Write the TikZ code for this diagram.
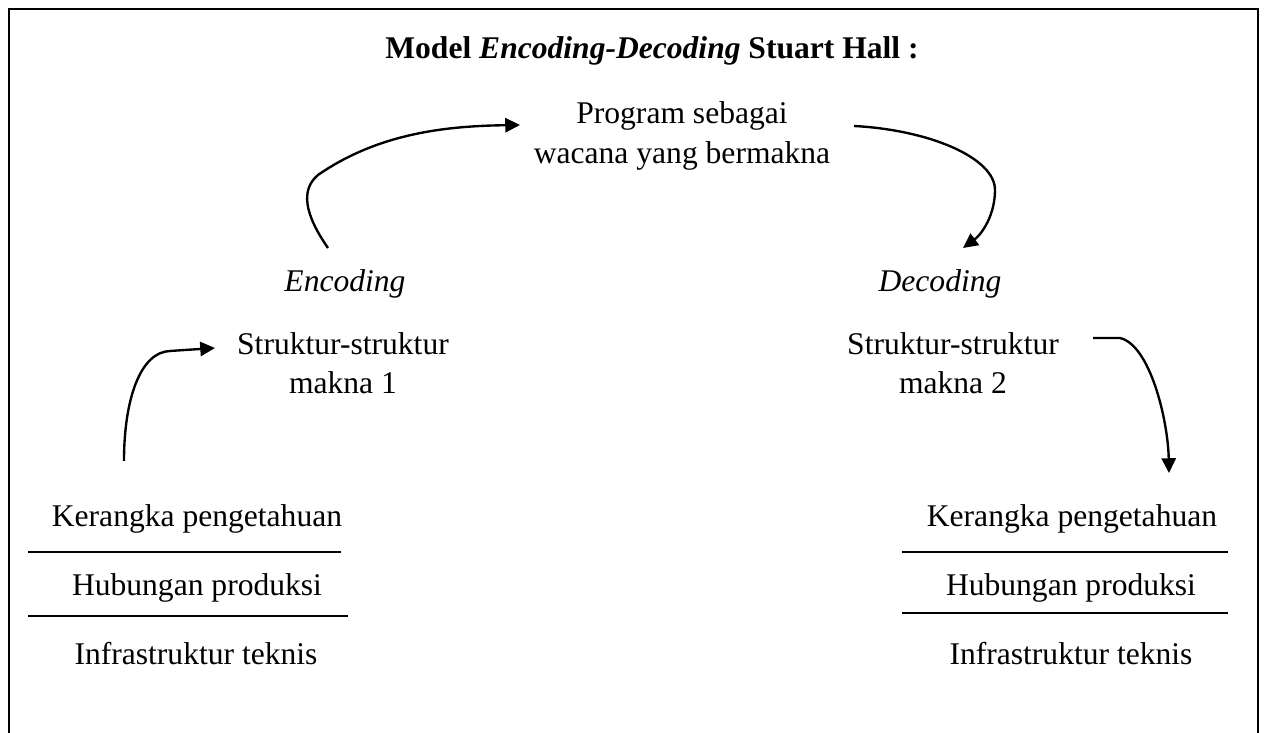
\documentclass[tikz,border=0pt]{standalone}
\usepackage{fontspec}
\setmainfont{Liberation Serif}
\usepackage{tikz}
\usetikzlibrary{arrows.meta}

\tikzset{
    lbl/.style={font=\fontsize{12}{15}\selectfont, inner sep=0pt, align=center},
    flow/.style={line width=0.9pt, -{Triangle[length=5.6pt,width=5.4pt]}},
    rule/.style={line width=0.8pt}
}

\begin{document}
\begin{tikzpicture}[x=0.38pt, y=-0.38pt]
    \useasboundingbox (0,0) rectangle (1266,733);

    % Frame (open at the bottom)
    \draw[line width=0.8pt] (9,733) -- (9,9) -- (1258,9) -- (1258,733);

    % Title
    \node[lbl, font=\fontsize{12}{15}\bfseries, anchor=base] (title) at (652,59) {Model \textit{Encoding-Decoding} Stuart Hall :};

    % Message in the middle
    \node[lbl] (prog) at (682,136) {Program sebagai\\wacana yang bermakna};

    % Encoding side
    \node[lbl, font=\fontsize{12}{15}\itshape] (enc) at (345,284) {Encoding};
    \node[lbl] (struk1) at (343,363) {Struktur-struktur\\makna 1};

    % Decoding side
    \node[lbl, font=\fontsize{12}{15}\itshape] (dec) at (940,284) {Decoding};
    \node[lbl] (struk2) at (953,363) {Struktur-struktur\\makna 2};

    % Left stack
    \node[lbl, anchor=base] (ker1) at (197,527) {Kerangka pengetahuan};
    \node[lbl, anchor=base] (hub1) at (197,596) {Hubungan produksi};
    \node[lbl, anchor=base] (inf1) at (196,665) {Infrastruktur teknis};
    \draw[rule] (28,552) -- (341,552);
    \draw[rule] (28,616) -- (348,616);

    % Right stack
    \node[lbl, anchor=base] (ker2) at (1072,527) {Kerangka pengetahuan};
    \node[lbl, anchor=base] (hub2) at (1071,596) {Hubungan produksi};
    \node[lbl, anchor=base] (inf2) at (1071,665) {Infrastruktur teknis};
    \draw[rule] (902,552) -- (1228,552);
    \draw[rule] (902,613) -- (1228,613);

    % Arrow ends
    \coordinate (encTop) at (328,248);
    \coordinate (progIn) at (520,125);
    \coordinate (progOut) at (854,126);
    \coordinate (decTop) at (963,248);
    \coordinate (kerTop) at (124,461);
    \coordinate (strukIn) at (215,348);
    \coordinate (strukOut) at (1093,338);
    \coordinate (kerIn) at (1169,473);

    % Flow arrows
    \draw[flow] (encTop) .. controls (305,215) and (300,190) .. (318,175)
        .. controls (380,132) and (450,126) .. (progIn);
    \draw[flow] (progOut) .. controls (930,130) and (995,158) .. (995,190)
        .. controls (995,215) and (982,234) .. (decTop);
    \draw[flow] (kerTop) .. controls (124,400) and (140,352) .. (170,351) -- (strukIn);
    \draw[flow] (strukOut) -- (1120,338) .. controls (1150,345) and (1168,420) .. (kerIn);

\end{tikzpicture}
\end{document}
